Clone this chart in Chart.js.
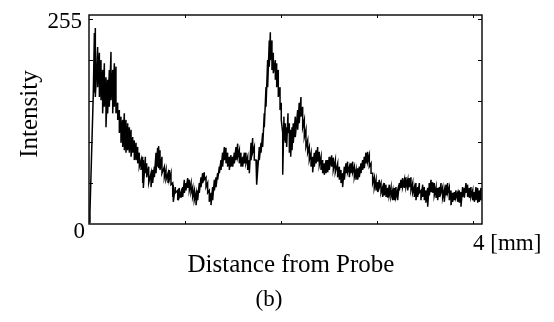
<!DOCTYPE html>
<html>
<head>
<meta charset="utf-8">
<script src="https://cdn.jsdelivr.net/npm/chart.js@4/dist/chart.umd.min.js"></script>
<style>
html,body{margin:0;padding:0;background:#fff;}
canvas{display:block;}
</style>
</head>
<body>
<canvas id="c" width="554" height="322"></canvas>
<script>
// Distance from probe [mm] for each sampled column of the trace
const distanceMm = [0.005,0.010,0.045,
0.056,0.066,0.090,0.108,0.125,0.142,0.160,0.177,0.194,0.212,0.229,0.247,0.264,0.281,0.299,0.316,0.333,0.351,0.368,0.385,0.403,0.420,0.438,0.455,0.472,0.490,0.507,0.524,0.542,0.559,0.566,0.587,0.601,0.622,0.646,0.663,0.681,0.698,0.715,0.726,0.740,0.760,0.785,0.802,0.823,
0.837,0.854,0.872,0.878,0.899,0.924,0.941,0.958,0.976,0.993,1.010,1.028,1.045,1.063,1.080,1.097,1.115,1.132,1.149,1.167,1.184,1.201,1.219,1.236,1.253,1.271,1.288,1.306,1.323,1.340,1.358,1.375,1.392,1.410,1.427,1.444,1.462,1.479,1.497,1.514,1.531,1.549,1.566,1.583,1.601,1.618,1.635,
1.653,1.670,1.688,1.705,1.722,1.740,1.750,1.774,1.792,1.809,1.826,1.844,1.861,1.878,1.889,1.906,1.920,1.941,1.955,1.972,1.990,2.003,2.018,2.031,2.045,2.059,2.073,2.087,2.101,2.115,2.128,2.149,2.174,2.190,2.208,2.226,2.243,2.260,2.278,2.295,2.313,2.330,2.347,2.365,2.382,2.399,2.417,2.434,2.451,2.469,
2.486,2.503,2.521,2.531,2.545,2.566,2.590,2.608,2.625,2.642,2.660,2.677,2.694,2.712,2.729,2.747,2.764,2.781,2.799,2.816,2.833,2.851,2.868,2.885,2.903,2.920,2.938,2.955,2.972,2.990,3.007,3.024,3.042,3.059,3.076,3.094,3.111,3.128,3.146,3.163,3.181,3.198,3.215,3.233,3.250,3.267,3.285,3.302,
3.320,3.337,3.354,3.372,3.389,3.406,3.424,3.441,3.458,3.476,3.493,3.510,3.528,3.545,3.563,3.580,3.597,3.615,3.632,3.649,3.667,3.684,3.701,3.719,3.736,3.753,3.771,3.788,3.806,3.823,3.840,3.858,3.875,3.892,3.910,3.927,3.944,3.962,3.979,3.997,4.014,4.031,4.049,4.066,4.083];

// Upper edge of the noisy intensity trace (0-255)
const upperIntensity = [2,15,160,
233,239,216,209,200,188,196,179,176,188,210,188,196,192,148,139,131,127,135,127,123,118,115,106,102,99,94,87,78,82,78,82,74,70,62,66,70,87,93,95,90,82,70,66,62,
66,62,50,48,45,41,44,39,45,54,50,56,54,50,45,41,38,41,50,57,62,63,57,50,41,38,45,54,57,62,70,78,87,94,93,87,82,84,82,87,94,98,90,87,82,87,87,
82,78,99,105,94,78,74,94,99,111,135,167,200,224,234,224,209,200,196,188,167,148,111,131,123,118,135,123,115,118,123,131,139,148,155,143,127,115,102,94,87,82,87,90,94,88,82,78,74,78,
78,82,82,84,81,78,74,70,66,62,70,74,76,70,74,76,70,66,68,70,74,78,82,87,88,84,74,62,57,54,51,54,50,45,50,48,44,48,45,41,44,45,41,50,54,56,54,57,
54,56,57,50,45,50,45,50,41,48,45,41,44,50,54,51,50,45,44,45,50,45,41,48,50,45,41,38,39,41,38,41,39,45,44,50,48,44,45,41,39,45,44,41,44];

// Lower edge of the noisy intensity trace (0-255)
const lowerIntensity = [2,15,160,
160,155,167,155,151,135,143,118,135,143,151,135,143,135,127,111,99,94,90,87,90,87,82,87,78,78,74,70,66,50,44,62,57,50,45,50,57,62,70,68,66,62,57,54,50,
54,48,33,27,38,29,33,32,33,38,41,44,41,38,33,29,23,29,38,45,50,54,45,38,27,23,29,41,45,54,62,66,70,78,74,70,66,70,70,74,78,82,74,70,70,74,74,
66,62,78,87,78,66,48,78,87,94,118,143,167,192,200,188,184,176,167,155,139,127,60,102,99,94,111,87,82,90,99,106,115,123,131,118,106,94,87,78,70,63,70,74,76,72,66,62,60,62,
63,66,70,70,66,63,57,54,50,45,54,62,63,57,62,63,57,54,54,57,62,66,68,74,76,70,62,50,44,41,39,44,38,33,35,33,32,35,33,29,29,33,29,41,44,45,44,45,
41,45,41,38,33,29,33,38,29,33,29,26,21,35,39,38,35,32,29,33,38,32,27,35,38,29,23,27,29,32,27,26,21,33,32,38,33,32,33,29,27,29,26,27,29];

// Axis definitions
const xRangeMm = [0, 4.094];
const yRange = [0, 255];
const yMinorTicks = [50, 100, 150, 200, 250];
const xMinorTicks = [1, 2, 3, 4];
const yTickLabels = [{value: 0, text: '0'}, {value: 255, text: '255'}];
const xTickLabel = {value: 4, text: '4 [mm]'};
const xTitle = 'Distance from Probe';
const yTitle = 'Intensity';
const panelLabel = '(b)';

const points = [];
for (let i = 0; i < distanceMm.length; i++) {
  points.push({x: distanceMm[i], y: upperIntensity[i]});
  if (lowerIntensity[i] !== upperIntensity[i]) points.push({x: distanceMm[i], y: lowerIntensity[i]});
}

const framePlugin = {
  id: 'frame',
  afterDraw(chart) {
    const {ctx, chartArea: a, scales} = chart;
    const xs = scales.x, ys = scales.y;
    ctx.save();
    ctx.strokeStyle = '#000';
    ctx.lineWidth = 1.4;
    ctx.strokeRect(a.left, a.top, a.right - a.left, a.bottom - a.top);
    ctx.lineWidth = 1;
    ctx.beginPath();
    yMinorTicks.forEach(v => {
      const p = Math.round(ys.getPixelForValue(v)) + 0.5;
      ctx.moveTo(a.left, p); ctx.lineTo(a.left + 4, p);
      ctx.moveTo(a.right, p); ctx.lineTo(a.right - 4, p);
    });
    xMinorTicks.forEach(v => {
      const p = Math.round(xs.getPixelForValue(v)) + 0.5;
      ctx.moveTo(p, a.top); ctx.lineTo(p, a.top + 3);
      ctx.moveTo(p, a.bottom); ctx.lineTo(p, a.bottom - 3);
    });
    ctx.stroke();

    ctx.fillStyle = '#000';
    ctx.textBaseline = 'alphabetic';
    ctx.font = '23px "Liberation Serif", "Times New Roman", serif';
    ctx.textAlign = 'right';
    yTickLabels.forEach(t => {
      const p = ys.getPixelForValue(t.value);
      if (t.value === 0) ctx.fillText(t.text, a.left - 4, p + 14);
      else ctx.fillText(t.text, a.left - 7, p + 13);
    });
    ctx.textAlign = 'left';
    ctx.fillText(xTickLabel.text, xs.getPixelForValue(xTickLabel.value), a.bottom + 26);

    ctx.font = '25px "Liberation Serif", "Times New Roman", serif';
    ctx.textAlign = 'center';
    ctx.fillText(xTitle, 291, 272);
    ctx.font = '23px "Liberation Serif", "Times New Roman", serif';
    ctx.fillText(panelLabel, 269, 306);

    ctx.font = '25px "Liberation Serif", "Times New Roman", serif';
    ctx.translate(37, 114);
    ctx.rotate(-Math.PI / 2);
    ctx.fillText(yTitle, 0, 0);
    ctx.restore();
  }
};

new Chart(document.getElementById('c'), {
  type: 'line',
  data: {
    datasets: [{
      data: points,
      borderColor: '#000',
      borderWidth: 1.5,
      pointRadius: 0,
      tension: 0,
      fill: false
    }]
  },
  options: {
    responsive: false,
    animation: false,
    events: [],
    layout: {padding: {left: 89, top: 15, right: 72, bottom: 98}},
    plugins: {legend: {display: false}, tooltip: {enabled: false}},
    scales: {
      x: {type: 'linear', min: xRangeMm[0], max: xRangeMm[1], display: false},
      y: {type: 'linear', min: yRange[0], max: yRange[1], display: false}
    }
  },
  plugins: [framePlugin]
});
</script>
</body>
</html>
